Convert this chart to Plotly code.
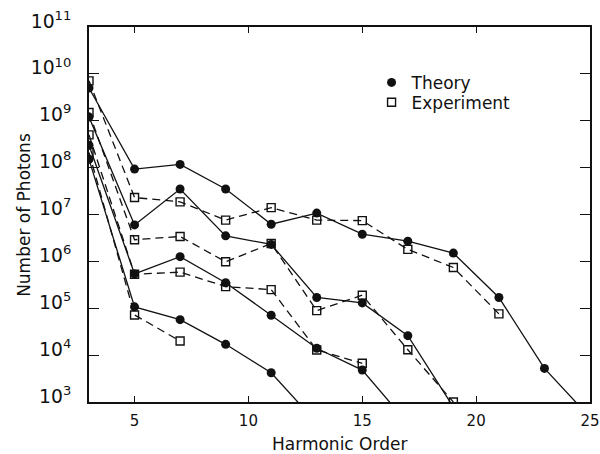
import plotly.graph_objects as go

# Harmonic orders (odd harmonics)
orders_t1 = [3, 5, 7, 9, 11, 13, 15, 17, 19, 21, 23, 25]
orders_t2 = [3, 5, 7, 9, 11, 13, 15, 17, 19]
orders_t3 = [3, 5, 7, 9, 11, 13, 15, 17]
orders_t4 = [3, 5, 7, 9, 11, 13]

orders_e1 = [3, 5, 7, 9, 11, 13, 15, 17, 19, 21]
orders_e2 = [3, 5, 7, 9, 11, 13, 15, 17, 19]
orders_e3 = [3, 5, 7, 9, 11, 13, 15]
orders_e4 = [3, 5, 7]

# Calculated photon yields (four laser intensities)
theory_1 = [5.0e9, 9.3e7, 1.17e8, 3.5e7, 6.2e6, 1.07e7, 3.8e6, 2.7e6, 1.5e6, 1.7e5, 5.2e3, 4.7e2]
theory_2 = [1.2e9, 6.0e6, 3.5e7, 3.5e6, 2.3e6, 1.7e5, 1.3e5, 2.6e4, 7.8e2]
theory_3 = [3.0e8, 5.4e5, 1.26e6, 3.5e5, 7.1e4, 1.4e4, 4.8e3, 3.5e2]
theory_4 = [1.5e8, 1.07e5, 5.7e4, 1.7e4, 4.2e3, 3.6e2]

# Measured photon yields
experiment_1 = [7.1e9, 2.3e7, 1.86e7, 7.6e6, 1.4e7, 7.6e6, 7.4e6, 1.8e6, 7.4e5, 7.6e4]
experiment_2 = [1.5e9, 2.9e6, 3.4e6, 9.8e5, 2.4e6, 8.9e4, 1.9e5, 1.3e4, 1.0e3]
experiment_3 = [5.0e8, 5.3e5, 5.9e5, 2.9e5, 2.5e5, 1.29e4, 6.7e3]
experiment_4 = [2.1e8, 7.2e4, 2.0e4]

x_ticks = [5, 10, 15, 20, 25]

FONT = "DejaVu Sans"
INK = "#111111"

fig = go.Figure()

theory_sets = [(orders_t1, theory_1), (orders_t2, theory_2),
               (orders_t3, theory_3), (orders_t4, theory_4)]
experiment_sets = [(orders_e1, experiment_1), (orders_e2, experiment_2),
                   (orders_e3, experiment_3), (orders_e4, experiment_4)]

for xs, ys in theory_sets:
    fig.add_trace(go.Scatter(
        x=xs, y=ys, mode="lines+markers", showlegend=False,
        line=dict(color=INK, width=1.3),
        marker=dict(symbol="circle", size=9, color=INK),
    ))

for xs, ys in experiment_sets:
    fig.add_trace(go.Scatter(
        x=xs, y=ys, mode="lines+markers", showlegend=False,
        line=dict(color=INK, width=1.3, dash="8px,5px"),
        marker=dict(symbol="square-open", size=8, color=INK,
                    line=dict(width=1.4, color=INK)),
    ))

# Legend entries show the marker only; one legend per row for tight spacing
fig.add_trace(go.Scatter(x=[None], y=[None], mode="markers", name="Theory",
                         legend="legend",
                         marker=dict(symbol="circle", size=9, color=INK)))
fig.add_trace(go.Scatter(x=[None], y=[None], mode="markers", name="Experiment",
                         legend="legend2",
                         marker=dict(symbol="square-open", size=8, color=INK,
                                     line=dict(width=1.4, color=INK))))

axis_common = dict(
    showline=True, linewidth=1.5, linecolor=INK, mirror="ticks",
    ticks="inside", tickcolor=INK, tickwidth=1.3,
    showgrid=False, zeroline=False, automargin=False,
    tickfont=dict(family=FONT, size=15, color=INK),
)

fig.update_xaxes(
    range=[3, 25], tickvals=x_ticks, ticklen=6,
    ticklabelstandoff=4,
    **axis_common,
)
fig.update_yaxes(
    type="log", range=[3, 11], dtick=1, exponentformat="power",
    showexponent="all", ticklen=10, ticklabelshift=-6, ticklabelstandoff=13,
    **axis_common,
)

# Axis titles placed as annotations
fig.add_annotation(
    text="Harmonic Order",
    xref="paper", yref="paper", x=0.5, y=-0.113,
    xanchor="center", yanchor="middle", showarrow=False,
    font=dict(family=FONT, size=17, color=INK),
)
fig.add_annotation(
    text="Number of Photons", textangle=-90,
    xref="paper", yref="paper", x=-0.131, y=0.5,
    xanchor="center", yanchor="middle", showarrow=False,
    font=dict(family=FONT, size=17, color=INK),
)

legend_common = dict(
    xanchor="left", yanchor="middle",
    bgcolor="rgba(0,0,0,0)", borderwidth=0,
    font=dict(family=FONT, size=17, color=INK),
    itemsizing="trace",
)

fig.update_layout(
    width=600, height=454,
    margin=dict(l=89, r=10, t=27, b=52, autoexpand=False),
    paper_bgcolor="white", plot_bgcolor="white",
    font=dict(family=FONT, size=14, color=INK),
    legend=dict(x=0.564, y=0.851, **legend_common),
    legend2=dict(x=0.564, y=0.798, **legend_common),
)

fig.write_html("out.html")
